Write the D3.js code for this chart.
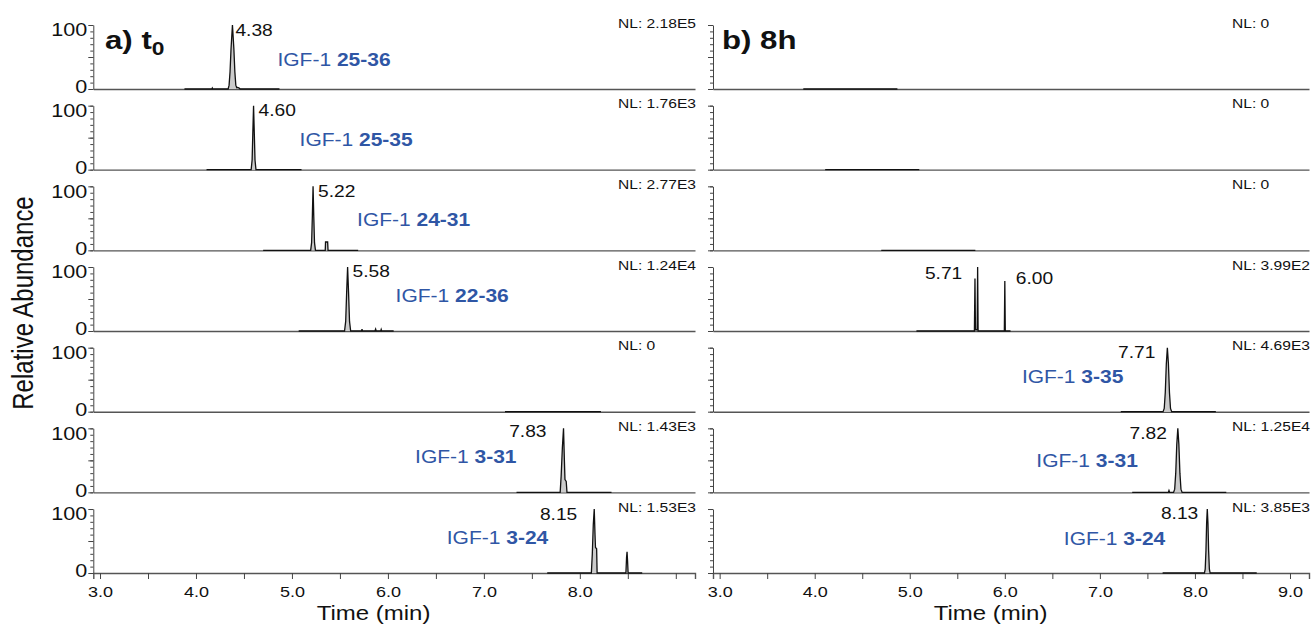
<!DOCTYPE html>
<html>
<head>
<meta charset="utf-8">
<script src="https://cdn.jsdelivr.net/npm/d3@7"></script>
<style>
  body { margin: 0; background: #fff; }
  svg { display: block; font-family: "Liberation Sans", Arial, sans-serif; }
</style>
</head>
<body>
<svg id="chart" width="1314" height="628"></svg>
<script>
// ---- data ----
var timeTicks = [3.0, 3.5, 4.0, 4.5, 5.0, 5.5, 6.0, 6.5, 7.0, 7.5, 8.0, 8.5, 9.0]
var tickLabelsT0 = ["3.0", "4.0", "5.0", "6.0", "7.0", "8.0"]
var tickLabels8h = ["3.0", "4.0", "5.0", "6.0", "7.0", "8.0", "9.0"]
var abundanceTicks = [0, 10, 20, 30, 40, 50, 60, 70, 80, 90, 100]
var abundanceLabels = [0, 100]

// SRM acquisition windows (min), same for both columns
var windows = [[3.88, 4.87], [4.11, 5.10], [4.70, 5.69], [5.07, 6.06], [7.22, 8.22], [7.34, 8.33], [7.66, 8.65]]

var nlT0 = ["2.18E5", "1.76E3", "2.77E3", "1.24E4", "0", "1.43E3", "1.53E3"]
var nl8h = ["0", "0", "0", "3.99E2", "4.69E3", "1.25E4", "3.85E3"]

var fragT0 = ["25-36", "25-35", "24-31", "22-36", null, "3-31", "3-24"]
var frag8h = [null, null, null, null, "3-35", "3-31", "3-24"]

var rtT0 = [[4.38], [4.60], [5.22], [5.58], [], [7.83], [8.15]]
var rt8h = [[], [], [], [5.71, 6.00], [7.71], [7.82], [8.13]]

// [time, relative abundance] points of each trace (only where it leaves 0)
var peaksT0 = [
  [[4.165, 0], [4.17, 1.5], [4.175, 0], [4.335, 0], [4.345, 6], [4.355, 27], [4.365, 62], [4.38, 100],
   [4.395, 62], [4.405, 27], [4.415, 6], [4.425, 2], [4.435, 2.5], [4.45, 1.5], [4.46, 0]],
  [[4.575, 0], [4.585, 15], [4.592, 55], [4.60, 100], [4.608, 55], [4.615, 15], [4.625, 0]],
  [[5.195, 0], [5.205, 12], [5.213, 55], [5.22, 100], [5.227, 55], [5.235, 12], [5.245, 0],
   [5.347, 0], [5.35, 13], [5.372, 13], [5.376, 0]],
  [[5.548, 0], [5.56, 15], [5.57, 60], [5.58, 100], [5.59, 60], [5.60, 15], [5.612, 0],
   [5.725, 0], [5.73, 3], [5.735, 0], [5.865, 0], [5.872, 3], [5.878, 0], [5.925, 0], [5.93, 2.5], [5.935, 0]],
  [],
  [[7.795, 0], [7.805, 25], [7.818, 70], [7.83, 100], [7.838, 55], [7.845, 20], [7.858, 17], [7.866, 0]],
  [[8.12, 0], [8.13, 30], [8.14, 75], [8.15, 100], [8.158, 60], [8.163, 40], [8.175, 38], [8.18, 0],
   [8.48, 0], [8.487, 25], [8.492, 33], [8.497, 20], [8.503, 0]]
]
var peaks8h = [
  [], [], [],
  [[5.680, 0], [5.686, 82], [5.691, 2], [5.709, 2], [5.714, 100], [5.719, 0], [5.995, 0], [6.00, 78], [6.005, 0]],
  [[7.665, 0], [7.677, 5], [7.688, 30], [7.699, 75], [7.71, 100], [7.721, 75], [7.732, 30], [7.743, 5], [7.755, 0]],
  [[7.72, 0], [7.727, 3], [7.734, 0], [7.775, 0], [7.787, 5], [7.798, 30], [7.809, 75], [7.82, 100],
   [7.831, 75], [7.842, 30], [7.853, 5], [7.865, 0]],
  [[8.10, 0], [8.108, 6], [8.116, 35], [8.123, 78], [8.13, 100], [8.137, 78], [8.144, 35], [8.152, 6], [8.16, 0]]
]

// ---- layout ----
var SX = 1.2            // the figure is stretched sideways, so is its text
var blue = "#2f56a5"
var timeDomain = [2.93, 9.2]
var firstBase = 89, step = 80.67, plotH = 64
function base(i) { return firstBase + i * step }

// label placement: px from the retention time / baseline
var rtPlaceT0 = [[[3, -59, "start"]], [[5, -59, "start"]], [[5, -59, "start"]], [[5, -60, "start"]], [],
                 [[-17, -61, "end"]], [[-17, -59, "end"]]]
var rtPlace8h = [[], [], [], [[-15, -58, "end"], [11, -53, "start"]], [[-12, -59, "end"]],
                 [[-11, -59, "end"]], [[-9, -60, "end"]]]
var fragPlaceT0 = [[45, -29, "start"], [46, -30, "start"], [44, -30, "start"], [48, -35, "start"], null,
                   [-47, -35, "end"], [-46, -35, "end"]]
var fragPlace8h = [null, null, null, null, [-44, -35, "end"], [-40, -31, "end"], [-42, -34, "end"]]

var svg = d3.select("#chart")

function stretched(g, x, y, size, anchor) {
  return g.append("text")
    .attr("transform", "translate(" + x + "," + y + ") scale(" + SX + ",1)")
    .attr("font-size", size)
    .attr("dy", "0.35em")
    .attr("text-anchor", anchor || "start")
}

function drawColumn(c) {
  var x = d3.scaleLinear().domain(timeDomain).range(c.range)
  var g = svg.append("g")
  var line = d3.line().x(function(d) { return x(d[0]) })
  var area = d3.area().x(function(d) { return x(d[0]) })

  windows.forEach(function(w, i) {
    var b = base(i)
    var y = d3.scaleLinear().domain([0, 100]).range([b, b - plotH])
    line.y(function(d) { return y(d[1]) })
    area.y0(b).y1(function(d) { return y(d[1]) })
    var p = g.append("g")

    // x axis line of the panel, ticks only on the bottom one
    var last = i == windows.length - 1
    var xAxis = d3.axisBottom(x).tickValues(timeTicks)
      .tickSize(last ? 6 : 0).tickPadding(7)
      .tickFormat(function(t) {
        var s = t.toFixed(1)
        return last && c.tickLabels.indexOf(s) >= 0 ? s : ""
      })
    var xa = p.append("g").attr("transform", "translate(0," + b + ")").call(xAxis)
    xa.select(".domain").attr("stroke", "#555").attr("stroke-width", 1.4)
    xa.selectAll(".tick line").attr("stroke", "#444")
    xa.selectAll(".tick text").attr("font-size", 15).attr("fill", "#111")
      .attr("font-family", '"Liberation Sans", Arial, sans-serif')
      .attr("transform", "scale(" + SX + ",1)")

    // y axis: minor and major ticks
    var ya = p.append("g").attr("transform", "translate(" + c.range[0] + ",0)")
      .call(d3.axisLeft(y).tickValues(abundanceTicks).tickSize(3).tickFormat("").tickSizeOuter(0))
    ya.select(".domain").attr("stroke", "#444")
    ya.selectAll(".tick line").attr("stroke", "#444")
    p.append("g").attr("transform", "translate(" + c.range[0] + ",0)")
      .call(d3.axisLeft(y).tickValues([0, 50, 100]).tickSize(5).tickFormat("").tickSizeOuter(0))
      .call(function(a) { a.select(".domain").remove(); a.selectAll("line").attr("stroke", "#444") })
    if (c.yLabels) {
      abundanceLabels.forEach(function(v) {
        stretched(p, c.range[0] - 6, y(v) + (v == 100 ? 5 : -2), 18, "end").text(v).attr("fill", "#111")
      })
    }

    // trace
    var pts = [[w[0], 0]].concat(c.peaks[i], [[w[1], 0]])
    p.append("path").datum(pts).attr("d", area).attr("fill", "#cbcbcb")
    p.append("path").datum(pts).attr("d", line)
      .attr("fill", "none").attr("stroke", "#111").attr("stroke-width", 1.3)

    // NL
    stretched(p, c.range[1] - 77, b - 66, 13).text("NL: " + c.nl[i]).attr("fill", "#111")

    // retention times
    c.rt[i].forEach(function(t, k) {
      var pl = c.rtPlace[i][k]
      stretched(p, x(t) + pl[0], b + pl[1], 16, pl[2]).text(t.toFixed(2)).attr("fill", "#111")
    })

    // fragment name
    if (c.frag[i]) {
      var fp = c.fragPlace[i]
      var tx = stretched(p, x(c.rt[i][0]) + fp[0], b + fp[1], 17.5, fp[2]).attr("fill", blue)
      tx.append("tspan").text("IGF-1 ")
      tx.append("tspan").attr("font-weight", "bold").text(c.frag[i])
    }
  })

  // heading
  var h = g.append("text")
    .attr("transform", "translate(" + c.headX + ",49) scale(" + SX + ",1)")
    .attr("font-size", 26).attr("font-weight", "bold").attr("fill", "#111")
  h.append("tspan").text(c.head)
  if (c.sub) h.append("tspan").attr("font-size", 19).attr("dy", 6).text(c.sub)

  // time label
  g.append("text")
    .attr("transform", "translate(" + x(5.85) + ",620) scale(" + SX + ",1)")
    .attr("text-anchor", "middle").attr("font-size", 20).attr("fill", "#111")
    .text("Time (min)")
}

drawColumn({ range: [93.3, 695], yLabels: true, tickLabels: tickLabelsT0, nl: nlT0, frag: fragT0,
  rt: rtT0, peaks: peaksT0, rtPlace: rtPlaceT0, fragPlace: fragPlaceT0, head: "a) t", sub: "0", headX: 105 })
drawColumn({ range: [713, 1309], yLabels: false, tickLabels: tickLabels8h, nl: nl8h, frag: frag8h,
  rt: rt8h, peaks: peaks8h, rtPlace: rtPlace8h, fragPlace: fragPlace8h, head: "b) 8h", headX: 722 })

svg.append("text")
  .attr("transform", "translate(33,303) scale(" + SX + ",1) rotate(-90)")
  .attr("text-anchor", "middle").attr("font-size", 24).attr("fill", "#111")
  .text("Relative Abundance")
</script>
</body>
</html>
